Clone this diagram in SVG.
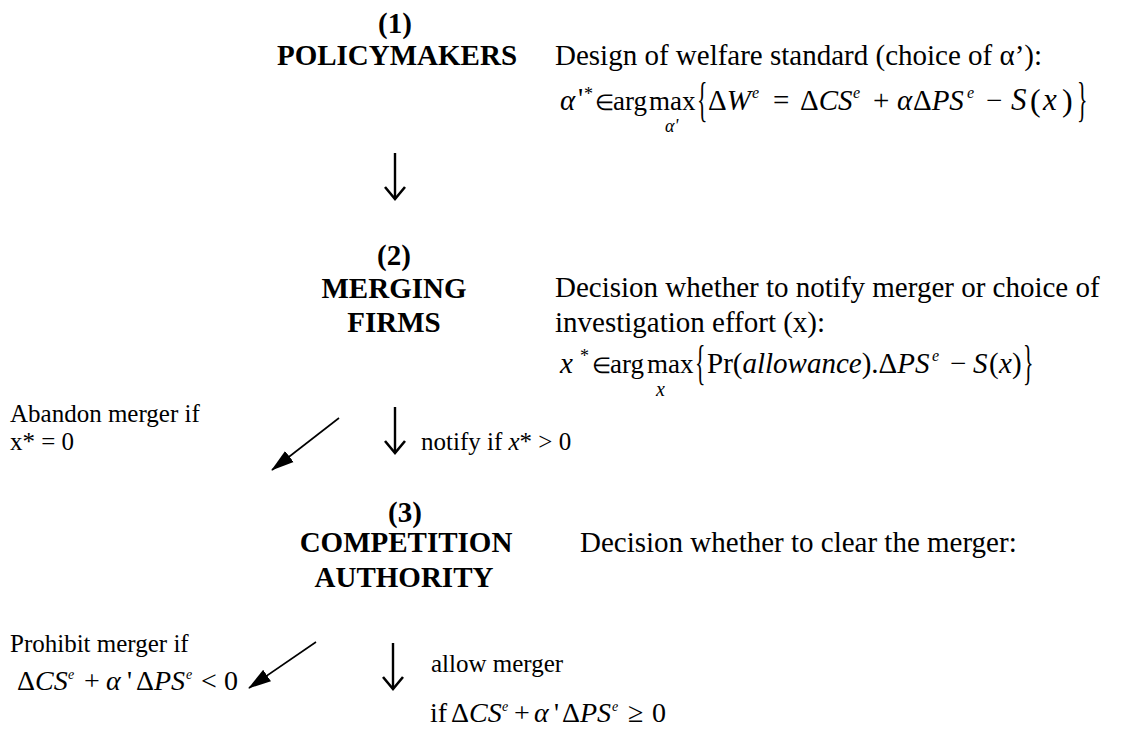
<svg xmlns="http://www.w3.org/2000/svg" width="1129" height="733" viewBox="0 0 1129 733">
<style>
text{font-family:"Liberation Serif","Times New Roman",serif;fill:#000}
.h{font-weight:bold;font-size:29px;text-anchor:middle}
.b{font-size:29px}
.m{font-size:27px}
.s{font-size:25px}
.f{font-size:28px}
.i{font-style:italic}
.sup{font-style:italic;font-size:16px}
.sup2{font-style:italic;font-size:14px}
.vl{stroke:#000;stroke-width:2.4;fill:none}
.dl{stroke:#000;stroke-width:1.6;fill:none}
</style>
<defs>
<marker id="vhead" markerUnits="userSpaceOnUse" markerWidth="18" markerHeight="24" refX="15" refY="12" orient="auto" viewBox="0 0 18 24">
<path d="M3,2 L15,12 L3,22" stroke="#000" stroke-width="2.6" fill="none" stroke-linejoin="miter"/>
</marker>
<marker id="dhead" markerUnits="userSpaceOnUse" markerWidth="24" markerHeight="16" refX="22" refY="8" orient="auto" viewBox="0 0 24 16">
<path d="M0,1 L23,8 L0,15 Z" fill="#000"/>
</marker>
</defs>

<g id="node-policymakers">
<text class="h" x="395" y="33">(1)</text>
<text class="h" x="397" y="65">POLICYMAKERS</text>
<text class="b" x="555" y="65">Design of welfare standard (choice of α’):</text>
<g>
<text class="b i" x="560" y="110">α</text>
<text class="b" x="578" y="108">'</text>
<text style="font-size:18px" x="584" y="100">*</text>
<text style="font-size:22px" x="595" y="110">∈</text>
<text class="m" x="613" y="110">arg</text>
<text class="m" x="649" y="110">max</text>
<text class="i" style="font-size:18px" x="665" y="132">α'</text>
<text class="b" transform="translate(697,115.5) scale(0.75,1.65)" x="0" y="0">{</text>
<text class="b" x="708" y="110">Δ<tspan class="i">W</tspan></text>
<text class="sup" x="752" y="98">e</text>
<text class="b" x="773" y="110">=</text>
<text class="b" x="800" y="110">Δ<tspan class="i">CS</tspan></text>
<text class="sup" x="853" y="98">e</text>
<text class="b" x="873" y="110">+</text>
<text class="b i" x="897" y="110">α</text>
<text class="b" x="913" y="110">Δ<tspan class="i">PS</tspan></text>
<text class="sup" x="967" y="98">e</text>
<text class="b" x="986" y="110">−</text>
<text class="b i" style="font-size:31px" x="1011" y="110">S</text>
<text style="font-size:32px" x="1030" y="111">(</text>
<text class="i" style="font-size:31px" x="1043" y="110">x</text>
<text style="font-size:32px" x="1062" y="111">)</text>
<text class="b" transform="translate(1077,115.5) scale(0.75,1.65)" x="0" y="0">}</text>
</g>
</g>

<g id="node-merging-firms">
<text class="h" x="394" y="265">(2)</text>
<text class="h" x="394" y="298">MERGING</text>
<text class="h" x="394" y="332">FIRMS</text>
<text class="b" x="555" y="297">Decision whether to notify merger or choice of</text>
<text class="b" x="555" y="332">investigation effort (x):</text>
<text class="b i" x="560" y="373">x</text>
<text style="font-size:18px" x="580" y="362">*</text>
<text style="font-size:22px" x="592" y="373">∈</text>
<text class="m" x="610" y="373">arg</text>
<text class="m" x="647" y="373">max</text>
<text class="i" style="font-size:20px" x="656" y="396">x</text>
<text class="b" transform="translate(695,378.5) scale(0.75,1.65)" x="0" y="0">{</text>
<text class="b" x="707" y="373">Pr(<tspan class="i">allowance</tspan>).Δ<tspan class="i">PS</tspan></text>
<text class="sup" x="932" y="361">e</text>
<text class="b" x="950" y="373">−</text>
<text class="b i" x="973" y="373">S</text>
<text class="b" x="989" y="373">(</text>
<text class="b i" x="999" y="373">x</text>
<text class="b" x="1012" y="373">)</text>
<text class="b" transform="translate(1023,378.5) scale(0.75,1.65)" x="0" y="0">}</text>
</g>

<g id="node-competition-authority">
<text class="h" x="405" y="522">(3)</text>
<text class="h" x="406" y="552">COMPETITION</text>
<text class="h" x="404" y="587">AUTHORITY</text>
<text class="b" x="580" y="552">Decision whether to clear the merger:</text>
</g>

<g id="label-abandon">
<text class="s" x="10" y="422">Abandon merger if</text>
<text class="s" x="10" y="450">x* = 0</text>
</g>

<g id="label-notify">
<text class="s" x="421" y="450">notify if <tspan class="i">x</tspan>* &gt; 0</text>
</g>

<g id="label-prohibit">
<text class="s" x="10" y="652">Prohibit merger if</text>
<text class="f" x="17" y="690">Δ<tspan class="i">CS</tspan></text>
<text class="sup2" x="68" y="679">e</text>
<text class="f" x="84" y="690">+</text>
<text class="f i" x="106" y="690">α</text>
<text class="f" x="127" y="690">'</text>
<text class="f" x="136" y="690">Δ<tspan class="i">PS</tspan></text>
<text class="sup2" x="186" y="679">e</text>
<text class="f" x="201" y="690">&lt;</text>
<text class="f" x="224" y="690">0</text>
</g>

<g id="label-allow">
<text class="s" x="431" y="672">allow merger</text>
<text class="f" x="430" y="722">if</text>
<text class="f" x="451" y="722">Δ<tspan class="i">CS</tspan></text>
<text class="sup2" x="502" y="711">e</text>
<text class="f" x="514" y="722">+</text>
<text class="f i" x="534" y="722">α</text>
<text class="f" x="554" y="722">'</text>
<text class="f" x="562" y="722">Δ<tspan class="i">PS</tspan></text>
<text class="sup2" x="612" y="711">e</text>
<text class="f" x="628" y="722">≥</text>
<text class="f" x="652" y="722">0</text>
</g>

<g id="connectors">
<line class="vl" x1="395" y1="153" x2="395" y2="199" marker-end="url(#vhead)"/>
<line class="vl" x1="395" y1="407" x2="395" y2="453" marker-end="url(#vhead)"/>
<line class="vl" x1="393" y1="643" x2="393" y2="689" marker-end="url(#vhead)"/>
<line class="dl" x1="339" y1="418" x2="272" y2="470" marker-end="url(#dhead)"/>
<line class="dl" x1="316" y1="642" x2="249" y2="688" marker-end="url(#dhead)"/>
</g>
</svg>
